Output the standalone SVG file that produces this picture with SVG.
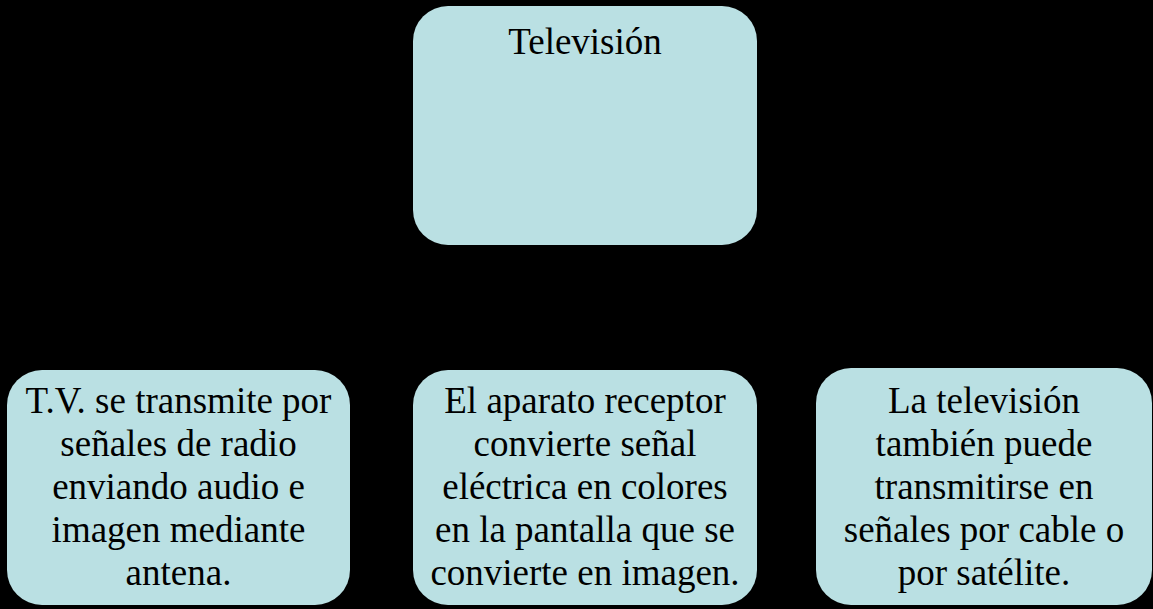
<svg xmlns="http://www.w3.org/2000/svg" width="1153" height="609" viewBox="0 0 1153 609">
<style>
.box{fill:#BAE0E3;stroke:none}
text{font-family:'Liberation Serif','DejaVu Serif',serif;font-size:37px;fill:#000;text-anchor:middle}
</style>
<rect x="0" y="0" width="1153" height="609" fill="#000"/>
<g id="connectors"></g>
<g id="node-top">
<rect class="box" x="413" y="6" width="344" height="239" rx="35" ry="35"/>
<text x="585" y="54">Televisión</text>
</g>
<g id="node-left">
<rect class="box" x="7" y="370" width="343" height="235" rx="35" ry="35"/>
<text x="178.5" y="413">T.V. se transmite por</text>
<text x="178.5" y="456">señales de radio</text>
<text x="178.5" y="499">enviando audio e</text>
<text x="178.5" y="542">imagen mediante</text>
<text x="178.5" y="585">antena.</text>
</g>
<g id="node-middle">
<rect class="box" x="413" y="370" width="344" height="235" rx="35" ry="35"/>
<text x="585" y="413">El aparato receptor</text>
<text x="585" y="456">convierte señal</text>
<text x="585" y="499">eléctrica en colores</text>
<text x="585" y="542">en la pantalla que se</text>
<text x="585" y="585">convierte en imagen.</text>
</g>
<g id="node-right">
<rect class="box" x="816" y="368" width="336" height="237" rx="35" ry="35"/>
<text x="984" y="413">La televisión</text>
<text x="984" y="456">también puede</text>
<text x="984" y="499">transmitirse en</text>
<text x="984" y="542">señales por cable o</text>
<text x="984" y="585">por satélite.</text>
</g>
</svg>
